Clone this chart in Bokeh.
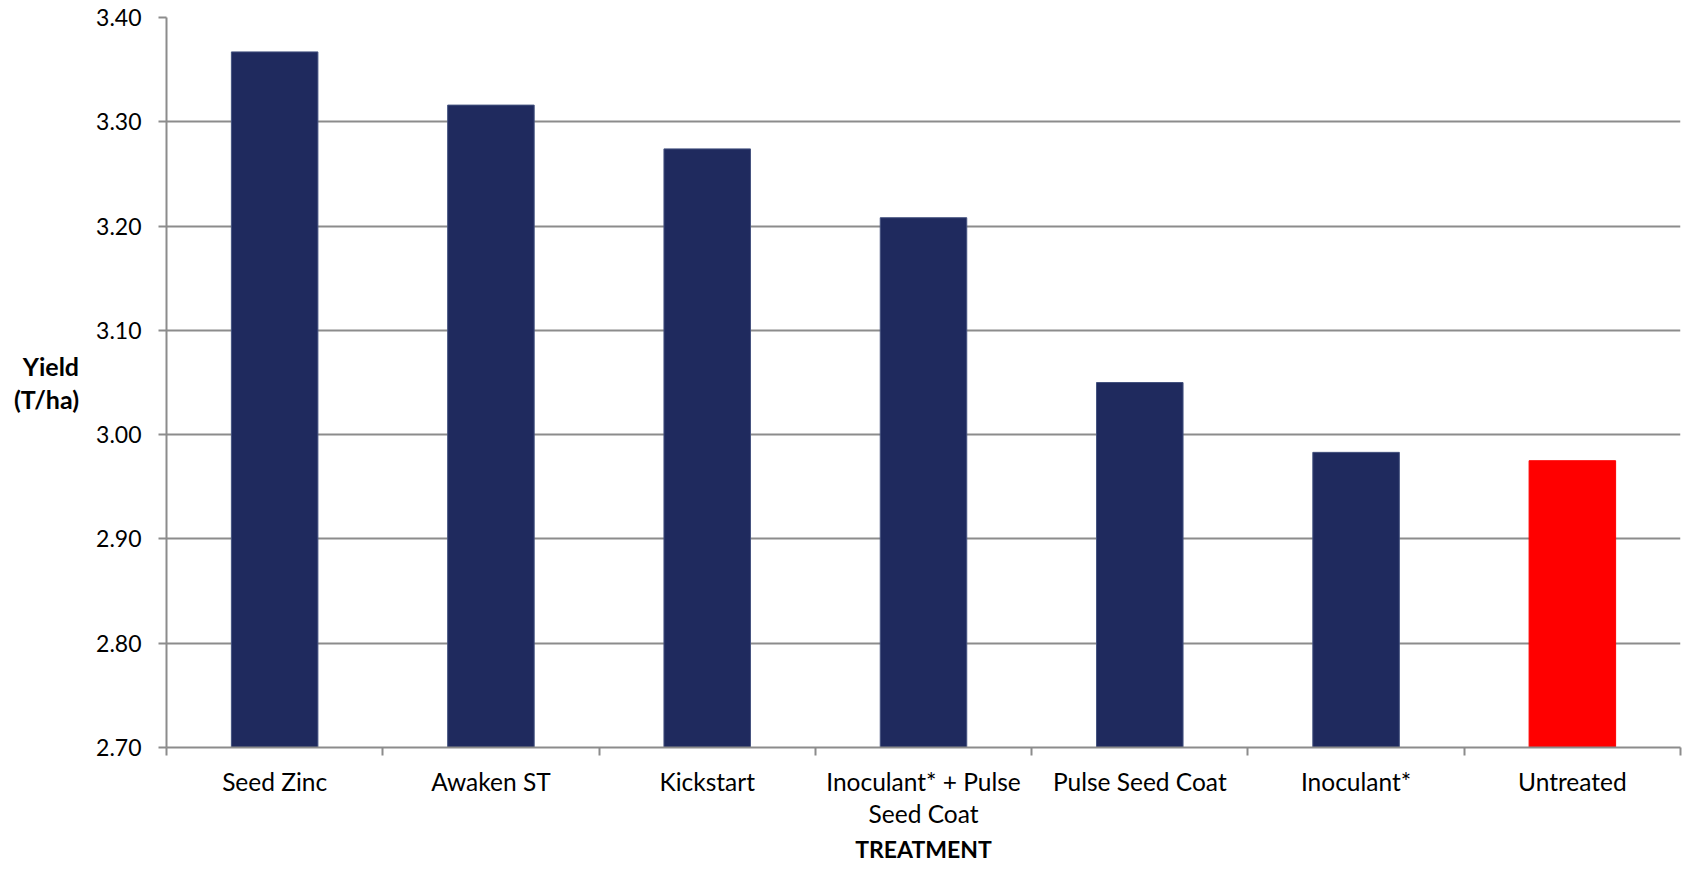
from bokeh.plotting import figure
from bokeh.models import Range1d, FixedTicker, ColumnDataSource
from bokeh.embed import file_html
from bokeh.resources import INLINE

categories = ["Seed Zinc", "Awaken ST", "Kickstart", "Inoculant* + Pulse\nSeed Coat",
              "Pulse Seed Coat", "Inoculant*", "Untreated"]
yields = [3.367, 3.316, 3.274, 3.208, 3.050, 2.983, 2.975]
bar_colors = ["#1F2A5E", "#1F2A5E", "#1F2A5E", "#1F2A5E", "#1F2A5E", "#1F2A5E", "#FF0000"]
edge_colors = ["#44527F", "#44527F", "#44527F", "#44527F", "#44527F", "#44527F", "#FF0000"]
y_ticks = [2.70, 2.80, 2.90, 3.00, 3.10, 3.20, 3.30, 3.40]
y_tick_labels = ["2.70", "2.80", "2.90", "3.00", "3.10", "3.20", "3.30", "3.40"]

centers = [i + 0.5 for i in range(len(categories))]
bounds = [float(i) for i in range(len(categories) + 1)]

src = ColumnDataSource(dict(x=centers, top=yields, color=bar_colors, edge=edge_colors))

FONT = "Lato"
GRID = "#8C8C8C"

p = figure(width=1682, height=866, output_backend="svg", toolbar_location=None,
           x_range=Range1d(0, len(categories)), y_range=Range1d(y_ticks[0], y_ticks[-1]),
           min_border_left=166, min_border_right=2, min_border_top=17, min_border_bottom=110)
p.outline_line_color = None
p.background_fill_color = "white"
p.border_fill_color = "white"

p.vbar(x="x", top="top", bottom=y_ticks[0], width=0.4, source=src,
       fill_color="color", line_color="edge", line_width=1)

# y axis
p.yaxis.ticker = FixedTicker(ticks=y_ticks, minor_ticks=[])
p.yaxis.major_label_overrides = {t: l for t, l in zip(y_ticks, y_tick_labels)}
p.yaxis.axis_line_color = GRID
p.yaxis.axis_line_width = 2
p.yaxis.major_tick_line_color = GRID
p.yaxis.major_tick_line_width = 2
p.yaxis.major_tick_in = 0
p.yaxis.major_tick_out = 8
p.yaxis.minor_tick_line_color = None
p.yaxis.major_label_text_font = FONT
p.yaxis.major_label_text_font_size = "23px"
p.yaxis.major_label_text_color = "black"
p.yaxis.major_label_standoff = 17
p.yaxis.axis_label = "Yield\n(T/ha)"
p.yaxis.axis_label_orientation = "horizontal"
p.yaxis.axis_label_text_font = FONT
p.yaxis.axis_label_text_font_style = "bold"
p.yaxis.axis_label_text_font_size = "25px"
p.yaxis.axis_label_text_color = "black"
p.yaxis.axis_label_text_line_height = 1.1
p.yaxis.axis_label_standoff = 14

# x axis
p.xaxis.ticker = FixedTicker(ticks=centers, minor_ticks=bounds)
p.xaxis.major_label_overrides = {c: l for c, l in zip(centers, categories)}
p.xaxis.axis_line_color = GRID
p.xaxis.axis_line_width = 2
p.xaxis.major_tick_line_color = None
p.xaxis.major_tick_in = 0
p.xaxis.major_tick_out = 0
p.xaxis.minor_tick_line_color = GRID
p.xaxis.minor_tick_line_width = 2
p.xaxis.minor_tick_in = 0
p.xaxis.minor_tick_out = 8
p.xaxis.major_label_text_font = FONT
p.xaxis.major_label_text_font_size = "24.5px"
p.xaxis.major_label_text_color = "black"
p.xaxis.major_label_standoff = 11
p.xaxis.major_label_text_line_height = 1.13
p.xaxis.axis_label = "TREATMENT"
p.xaxis.axis_label_text_font = FONT
p.xaxis.axis_label_text_font_style = "bold"
p.xaxis.axis_label_text_font_size = "23px"
p.xaxis.axis_label_text_color = "black"
p.xaxis.axis_label_standoff = 4

p.xgrid.grid_line_color = None
p.ygrid.ticker = FixedTicker(ticks=y_ticks)
p.ygrid.grid_line_color = GRID
p.ygrid.grid_line_width = 2

open("out.html", "w").write(file_html(p, INLINE))
